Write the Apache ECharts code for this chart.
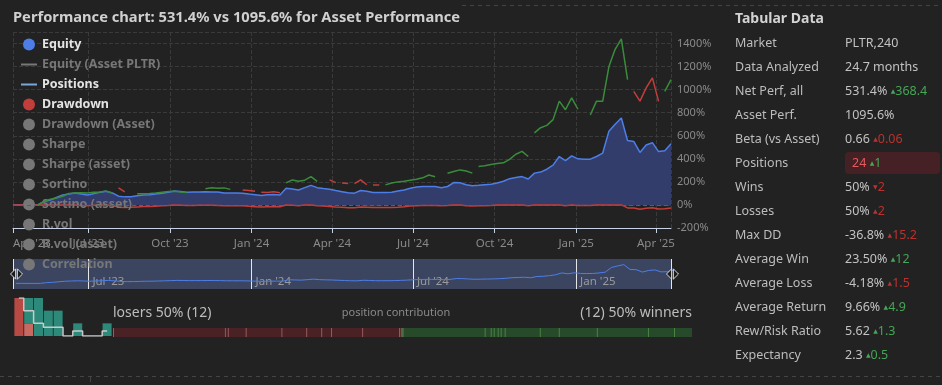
<!DOCTYPE html>
<html><head><meta charset="utf-8">
<script src="https://cdn.jsdelivr.net/npm/echarts@6/dist/echarts.min.js"></script>
<style>html,body{margin:0;padding:0;background:#222222;}#c{width:942px;height:385px;}</style>
</head><body><div id="c"></div>
<script>
// ---------------- DATA ----------------
const titleText = 'Performance chart: 531.4% vs 1095.6% for Asset Performance';
const startDate = [2023, 3, 7];   // weekly samples start (Apr 7 2023)
const endDate = [2025, 3, 18];
// strategy equity (%) weekly
const equity = [0,0,0,0,0,30,43,65,87,95,
 104,95,87,98,110,118,104,76,70,72,
 80,87,88,95,102,110,120,116,110,112,
 113,115,113,112,104,104,104,102,94,88,
 81,88,90,87,145,138,130,150,170,150,
 142,136,125,115,105,102,125,118,107,107,
 107,110,120,130,145,155,159,160,159,150,
 160,194,192,175,166,170,175,180,190,205,
 228,238,246,225,276,285,310,345,420,385,
 425,400,397,397,420,450,640,700,754,558,
 551,455,520,540,463,470,531];
// strategy drawdown (%) weekly
const drawdown = [0,0,0,0,0,0,0,0,0,0,
 0,-4,-8,-3,0,0,-6,-19,-22,-21,
 -17,-14,-14,-11,-7,-4,0,-2,-5,-4,
 -3,-2,-3,-4,-7,-7,-7,-8,-12,-15,
 -18,-15,-14,-15,0,-3,-6,0,0,-7,
 -10,-13,-17,-20,-24,-25,-17,-19,-23,-23,
 -23,-22,-19,-15,-9,-6,-4,-4,-4,-7,
 -4,0,-1,-7,-10,-8,-7,-5,-1,0,
 0,0,0,-6,0,0,0,0,0,-7,
 0,-5,-5,-5,-1,0,0,0,0,-26,
 -27,-37,-28,-25,-35,-34,-27];
// positions: asset performance (%) while in a position; start week index, outcome (1 win / 0 loss), values
const posSegStart = [4,17,20,31,37,40,44,51,53,55,58,60,70,75,84,93,100,105];
const posSegWin   = [1,0,1,1,0,0,1,0,0,0,0,1,1,1,1,1,0,1];
const posSegValues = [
 [0,30,50,60,75,100,104,106,104,110,113,120,104],
 [148,113],
 [96,98,100,104,110,116,118,112,108],
 [140,150,145,148,135],
 [130,125,118],
 [110,108,115,105],
 [191,217,205,215,246,205],
 [217,194],
 [191,185],
 [185,217,175],
 [174,174],
 [174,190,200,205,215,222,235,260,245],
 [275,290,304,295,276],
 [333,340,350,360,365,395,440,465,420],
 [625,670,690,740,900,826,928,830],
 [780,900,900,1200,1350,1440,1087],
 [985,900,1015,1102,898],
 [985,1087]
];
const legendNames = ['Equity','Equity (Asset PLTR)','Positions','Drawdown','Drawdown (Asset)','Sharpe','Sharpe (asset)','Sortino','Sortino (asset)','R.vol','R.vol (asset)','Correlation'];
const legendOn = [true,false,true,true,false,false,false,false,false,false,false,false];
// return distribution histogram
const histBins = ['b1','b2','b3','b4','b5','b6','b7','b8','b9','b10'];
const histLosers = [3,1,0,0,0,0,0,0,0,0];
const histWinners = [0,2,3,2,2,0,1,0,0,1];
const histCurve = [3,2,1,0.7,0.7,0,0.4,0,0,0.4];
// position contribution (%)
const loserContrib = [19.4,0.5,3.1,6.2,4.3,2.6,1.7,5.4,6.4,0.3,0.2,0.1];
const winnerContrib = [80,5.9,2.9,3.9,2.9,3.9,34.2,18.5,37.1,49.8,25.4,17.6];
// tabular data
const tableTitle = 'Tabular Data';
const tableLabels = ['Market','Data Analyzed','Net Perf, all','Asset Perf.','Beta (vs Asset)','Positions','Wins','Losses','Max DD','Average Win','Average Loss','Average Return','Rew/Risk Ratio','Expectancy'];
const tableValues = ['PLTR,240','24.7 months','531.4%','1095.6%','0.66','24','50%','50%','-36.8%','23.50%','-4.18%','9.66%','5.62','2.3'];
const tableDeltas = ['','','368.4','','0.06','1','2','2','15.2','12','1.5','4.9','1.3','0.5'];
const tableDeltaUp = [null,null,true,null,true,true,false,true,true,true,true,true,true,true];
const tableDeltaGood = [null,null,true,null,false,true,false,false,false,true,false,true,true,true];

// ---------------- BUILD ----------------
const FONT = 'Noto Sans';
const months = ['Jan','Feb','Mar','Apr','May','Jun','Jul','Aug','Sep','Oct','Nov','Dec'];
const fmtDate = v => { const d = new Date(v); return months[d.getMonth()] + " '" + String(d.getFullYear()).slice(2); };
const dates = equity.map((_, i) => new Date(startDate[0], startDate[1], startDate[2] + 7 * i).getTime());
const minT = dates[0];
const maxT = new Date(endDate[0], endDate[1], endDate[2]).getTime();
const DAY = 86400000;
const GREEN = '#3a8c3c', RED = '#c23e3b', BLUE = '#4d7ee8';
const LINE_ICON = 'path://M0,0 M0,12 M0,5 L16,5 L16,7 L0,7 Z';

const series = [];
series.push({name:'Equity', type:'line', xAxisIndex:0, yAxisIndex:0, symbol:'none', z:2,
  data: dates.map((d,i)=>[d, equity[i]]),
  lineStyle:{color:BLUE, width:1.5}, itemStyle:{color:BLUE},
  areaStyle:{color:'#323d6b', opacity:1}});
series.push({name:'Equity (Asset PLTR)', type:'line', xAxisIndex:0, yAxisIndex:0, symbol:'none', data:[],
  lineStyle:{color:'#888', width:2}, itemStyle:{color:'#888'}});
posSegStart.forEach((s,k)=>{
  series.push({name:'Positions', type:'line', xAxisIndex:0, yAxisIndex:0, symbol:'none', z:4,
    data: posSegValues[k].map((v,j)=>[dates[s+j], v]),
    lineStyle:{color: posSegWin[k] ? GREEN : RED, width:1.5}, itemStyle:{color:'#78a7d8'}});
});
series.push({name:'Drawdown', type:'line', xAxisIndex:0, yAxisIndex:0, symbol:'none', z:3,
  data: dates.map((d,i)=>[d, drawdown[i]]),
  lineStyle:{color:RED, width:1.5}, itemStyle:{color:RED},
  markLine:{silent:true, symbol:'none', label:{show:false}, data:[{yAxis:0}],
    lineStyle:{color:'#b53a37', type:[4,3], width:1}, emphasis:{disabled:true}}});
legendNames.slice(4).forEach(n=>series.push({name:n, type:'line', xAxisIndex:0, yAxisIndex:0, data:[], symbol:'none', itemStyle:{color:'#777'}}));

// histogram
series.push({type:'bar', xAxisIndex:2, yAxisIndex:2, stack:'h', barCategoryGap:'8%',
  data: histLosers.map((v,i)=>({value:v, itemStyle:{color: i===0 ? '#b84a46' : '#c86a61'}}))});
series.push({type:'bar', xAxisIndex:2, yAxisIndex:2, stack:'h', barCategoryGap:'8%',
  itemStyle:{color:'#2d8a7a'}, data: histWinners});
series.push({type:'line', xAxisIndex:2, yAxisIndex:2, step:'middle', symbol:'none', z:5,
  lineStyle:{color:'#c9c9c9', width:1.5}, data: histCurve});

// contribution bar
const sumL = loserContrib.reduce((a,b)=>a+b,0), sumW = winnerContrib.reduce((a,b)=>a+b,0);
const contribData = [];
let acc = 0;
loserContrib.forEach(v=>{ const w = v/sumL*50; contribData.push([acc, acc+w, 0]); acc += w; });
acc = 50;
winnerContrib.forEach(v=>{ const w = v/sumW*50; contribData.push([acc, acc+w, 1]); acc += w; });
series.push({type:'custom', xAxisIndex:3, yAxisIndex:3, data: contribData,
  encode:{x:[0,1]},
  renderItem:(params, api)=>{
    const s = api.coord([api.value(0), 0]);
    const e = api.coord([api.value(1), 0]);
    const h = api.size([0,1])[1];
    const win = api.value(2) === 1;
    return {type:'group', children:[
      {type:'rect', shape:{x:s[0], y:s[1]-h/2, width:Math.max(e[0]-s[0],0.5), height:h}, style:{fill: win ? '#264a2a' : '#4a2226'}},
      {type:'rect', shape:{x:s[0], y:s[1]-h/2, width:1, height:h}, style:{fill: win ? '#4a8a44' : '#9a5a5c'}}
    ]};
  }});

// graphic: texts
const graphic = [];
graphic.push({type:'line', shape:{x1:462,y1:5.5,x2:942,y2:5.5}, style:{stroke:'#444', lineDash:[4,4], lineWidth:1}, silent:true});
graphic.push({type:'line', shape:{x1:0,y1:376.5,x2:942,y2:376.5}, style:{stroke:'#444', lineDash:[4,4], lineWidth:1}, silent:true});
graphic.push({type:'line', shape:{x1:90.5,y1:376,x2:90.5,y2:382}, style:{stroke:'#444', lineWidth:1}, silent:true});
const nL = loserContrib.length, nW = winnerContrib.length, nT = nL + nW;
graphic.push({type:'text', x:113, y:313, style:{text:'losers ' + Math.round(nL/nT*100) + '% (' + nL + ')', fill:'#bdbdbd', font:'14px "'+FONT+'"', verticalAlign:'middle', align:'left'}});
graphic.push({type:'text', x:396, y:313, style:{text:'position contribution', fill:'#8a8a8a', font:'11px "'+FONT+'"', verticalAlign:'middle', align:'center'}});
graphic.push({type:'text', x:692, y:313, style:{text:'(' + nW + ') ' + Math.round(nW/nT*100) + '% winners', fill:'#bdbdbd', font:'14px "'+FONT+'"', verticalAlign:'middle', align:'right'}});
// table
graphic.push({type:'text', x:735, y:19, style:{text:tableTitle, fill:'#d2d2d2', font:'bold 14px "'+FONT+'"', verticalAlign:'middle'}});
tableLabels.forEach((lab,k)=>{
  const y = 43 + 24*k;
  graphic.push({type:'text', x:735, y:y, style:{text:lab, fill:'#bdbdbd', font:'12.5px "'+FONT+'"', verticalAlign:'middle'}});
  if (lab === 'Positions') {
    graphic.push({type:'rect', shape:{x:845, y:y-11, width:95, height:22, r:4}, style:{fill:'#452126'}});
  }
  let txt = '{v|' + tableValues[k] + '}';
  if (tableDeltas[k]) {
    const sty = tableDeltaGood[k] ? 'g' : 'r';
    txt += ' {' + sty + 'a|' + (tableDeltaUp[k] ? '▲' : '▼') + '}{' + sty + '|' + tableDeltas[k] + '}';
  }
  graphic.push({type:'text', x: lab === 'Positions' ? 852 : 845, y:y, style:{text:txt, verticalAlign:'middle',
    rich:{
      v:{fill: lab === 'Positions' ? '#e35b5b' : '#c2c2c2', fontFamily:FONT, fontSize:12.5, color: lab === 'Positions' ? '#e35b5b' : '#c2c2c2'},
      g:{color:'#45a655', fill:'#45a655', fontFamily:FONT, fontSize:12.5},
      r:{color:'#b8332f', fill:'#b8332f', fontFamily:FONT, fontSize:12.5},
      ga:{color:'#45a655', fill:'#45a655', fontFamily:'DejaVu Sans', fontSize:6},
      ra:{color:'#b8332f', fill:'#b8332f', fontFamily:'DejaVu Sans', fontSize:6}
    }}});
});

const legendData = legendNames.map(n=>{
  if (n === 'Equity (Asset PLTR)') return {name:n, icon:LINE_ICON, itemStyle:{color:'#888'}};
  if (n === 'Positions') return {name:n, icon:LINE_ICON, itemStyle:{color:'#78a7d8', borderWidth:0}};
  return {name:n, icon:'circle'};
});
const selected = {}; legendNames.forEach((n,i)=>selected[n]=legendOn[i]);

const option = {
  backgroundColor:'#222222',
  animation:false,
  textStyle:{fontFamily:FONT},
  title:{text:titleText, left:13, top:10, padding:0, textStyle:{color:'#d0d0d0', fontSize:14.7, fontWeight:'bold', fontFamily:FONT}},
  legend:{orient:'vertical', left:21, top:38, padding:0, itemWidth:16, itemHeight:12, itemGap:7,
    data:legendData, selected:selected, inactiveColor:'#777',
    textStyle:{color:'#e4e4e4', fontWeight:'bold', fontSize:12.5, lineHeight:12, fontFamily:FONT}},
  grid:[
    {left:13, right:271, top:32, bottom:157},
    {left:13, right:271, top:259, height:30, show:true, backgroundColor:'#3b4560', borderWidth:0},
    {left:14, top:298, width:98, height:38},
    {left:113, top:328, width:579, height:9}
  ],
  xAxis:[
    {type:'time', gridIndex:0, min:minT, max:maxT, minInterval:80*DAY, maxInterval:100*DAY,
      axisLine:{onZero:false, lineStyle:{color:'#c9d3e6'}}, axisTick:{show:true, length:5, lineStyle:{color:'#c9d3e6'}},
      axisLabel:{color:'#8a8a8a', fontSize:11.5, margin:10, formatter:fmtDate, showMinLabel:true, showMaxLabel:false, alignMinLabel:'left'},
      splitLine:{show:true, lineStyle:{color:'#3a3a3a', type:'dashed'}}},
    {type:'time', gridIndex:1, min:minT, max:maxT, splitNumber:4, minInterval:170*DAY, maxInterval:200*DAY,
      axisLine:{show:false, onZero:false}, axisTick:{show:false},
      axisLabel:{inside:true, color:'#9a9a9a', fontSize:11.5, margin:1, align:'left', padding:[0,0,0,4], formatter:fmtDate, showMinLabel:false, showMaxLabel:false},
      splitLine:{show:true, lineStyle:{color:'#e6e6e6', width:1}}},
    {type:'category', gridIndex:2, data:histBins, show:false},
    {type:'value', gridIndex:3, min:0, max:100, show:false}
  ],
  yAxis:[
    {type:'value', gridIndex:0, position:'right', min:-200, max:1500, interval:200,
      axisLine:{show:false}, axisTick:{show:false},
      axisLabel:{color:'#8a8a8a', fontSize:11, margin:6, formatter:v=>v+'%', showMaxLabel:false},
      splitLine:{show:true, lineStyle:{color:'#3a3a3a', type:'dashed'}}},
    {type:'value', gridIndex:1, min:0, max:1, show:false},
    {type:'value', gridIndex:2, min:0, max:3, show:false},
    {type:'category', gridIndex:3, data:['pc'], show:false}
  ],
  dataZoom:[{type:'slider', xAxisIndex:0, filterMode:'none', start:0, end:100,
    left:13, right:271, top:259, height:30,
    backgroundColor:'rgba(0,0,0,0)', borderColor:'transparent', fillerColor:'rgba(0,0,0,0)',
    dataBackground:{lineStyle:{color:BLUE, width:1, opacity:1}, areaStyle:{opacity:0}},
    selectedDataBackground:{lineStyle:{color:BLUE, width:1, opacity:1}, areaStyle:{opacity:0}},
    handleIcon:'path://M1,-6 L7,0 L1,6 Z M-1,-6 L-7,0 L-1,6 Z',
    handleSize:12, handleStyle:{color:'#1b1b1b', borderColor:'#dcdcdc', borderWidth:1},
    moveHandleSize:0, moveHandleStyle:{opacity:0}, showDetail:false, brushSelect:false,
    emphasis:{handleStyle:{color:'#1b1b1b'}}}],
  series:series,
  graphic:graphic
};
const chart = echarts.init(document.getElementById('c'), null, {renderer:'canvas'});
chart.setOption(option);
</script></body></html>
